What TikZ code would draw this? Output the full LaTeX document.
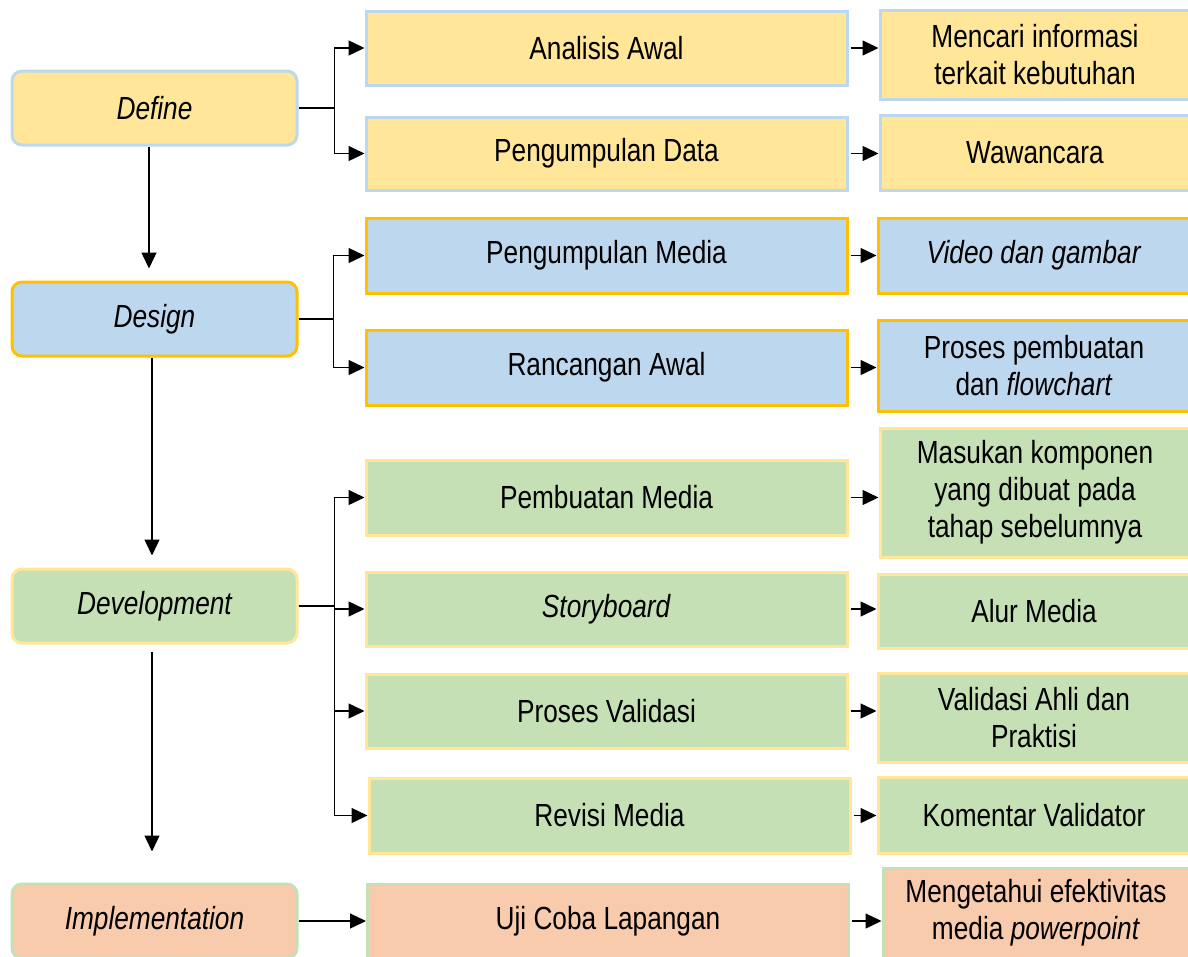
\documentclass[tikz,border=0pt]{standalone}
\usepackage{fontspec}
\setmainfont{Liberation Sans}[FakeStretch=0.82]
\usetikzlibrary{arrows.meta}
\definecolor{kuning}{HTML}{FFE699}
\definecolor{biru}{HTML}{BDD7EE}
\definecolor{hijau}{HTML}{C5E0B4}
\definecolor{jingga}{HTML}{F8CBAD}
\definecolor{emas}{HTML}{FFC000}

\begin{document}
\begin{tikzpicture}[x=1pt, y=-1pt,
  font=\fontsize{32}{37}\selectfont,
  box/.style={draw, line width=3pt, inner sep=2pt, align=center,
    minimum width=481pt, minimum height=74pt},
  tahap/.style={box, rounded corners=10pt, minimum width=285pt,
    font=\fontsize{32}{37}\selectfont\itshape},
  hasil/.style={box, minimum width=310pt},
  kdef/.style={fill=kuning, draw=biru},
  kdes/.style={fill=biru, draw=emas},
  kdev/.style={fill=hijau, draw=kuning},
  kimp/.style={fill=jingga, draw=hijau},
  panah/.style={line width=1.4pt, -{Triangle[length=16pt,width=15pt]}}]
\useasboundingbox (0,0) rectangle (1188,956);
\clip (0,0) rectangle (1188,956);
% tahapan (kolom kiri)
\node[tahap, kdef] (define) at (154.5,108) {Define};
\node[tahap, kdes] (design) at (154.5,319) {Design};
\node[tahap, kdev] (develop) at (154.5,606) {Development};
\node[tahap, kimp] (implement) at (154.5,921) {Implementation};
% kegiatan (kolom tengah)
\node[box, kdef] (analisis) at (606.5,48) {Analisis Awal};
\node[box, kdef, minimum height=73pt] (pengdata) at (606.5,153.5) {Pengumpulan Data};
\node[box, kdes, minimum height=75pt] (pengmedia) at (606.5,255.5) {Pengumpulan Media};
\node[box, kdes, minimum height=75pt] (rancangan) at (606.5,367.5) {Rancangan Awal};
\node[box, kdev, minimum height=75pt] (pembuatan) at (606.5,497.5) {Pembuatan Media};
\node[box, kdev] (storyboard) at (606.5,609) {\textit{Storyboard}};
\node[box, kdev] (validasi) at (606.5,711) {Proses Validasi};
\node[box, kdev, minimum height=75pt] (revisi) at (609.5,815.5) {Revisi Media};
\node[box, kimp] (ujicoba) at (608,921) {Uji Coba Lapangan};
% hasil (kolom kanan)
\node[hasil, kdef, minimum height=89pt] (mencari) at (1035,54.5) {Mencari informasi\\terkait kebutuhan};
\node[hasil, kdef, minimum height=75pt] (wawancara) at (1035,152.5) {Wawancara};
\node[hasil, kdes, minimum width=312pt, minimum height=75pt] (video) at (1034,255.5) {\textit{Video dan gambar}};
\node[hasil, kdes, minimum width=312pt, minimum height=91pt] (proses) at (1034,365.5) {Proses pembuatan\\dan \textit{flowchart}};
\node[hasil, kdev, minimum height=129pt] (masukan) at (1035,492.5) {Masukan komponen\\yang dibuat pada\\tahap sebelumnya};
\node[hasil, kdev, minimum width=312pt] (alur) at (1034,611) {Alur Media};
\node[hasil, kdev, minimum width=312pt, minimum height=89pt] (valahli) at (1034,717.5) {Validasi Ahli dan\\Praktisi};
\node[hasil, kdev, minimum width=312pt, minimum height=76pt] (komentar) at (1034,815) {Komentar Validator};
\node[hasil, kimp, minimum width=306pt, minimum height=90pt] (mengetahui) at (1036,913) {Mengetahui efektivitas\\media \textit{powerpoint}};
% alur antar tahap
\draw[panah, shorten >=12pt] ([xshift=-5.5pt]define.south) -- ([xshift=-5.5pt]design.north);
\draw[panah, shorten >=12pt] ([xshift=-2.5pt]design.south) -- ([xshift=-2.5pt]develop.north);
\draw[panah, shorten <=7pt, shorten >=31pt] ([xshift=-2.5pt]develop.south) -- ([xshift=-2.5pt]implement.north);
% cabang ke kegiatan
\foreach \k in {analisis, pengdata}{%
\draw[panah] (define.east) -- ++(36,0) |- (\k.west);}
\foreach \k in {pengmedia, rancangan}{%
\draw[panah] (design.east) -- ++(35,0) |- (\k.west);}
\foreach \k in {pembuatan, storyboard, validasi, revisi}{%
\draw[panah] (develop.east) -- ++(36,0) |- (\k.west);}
\draw[panah] (implement.east) -- (ujicoba.west);
% kegiatan ke hasil
\foreach \a/\b in {analisis/mencari, pengdata/wawancara, pengmedia/video,
  rancangan/proses, pembuatan/masukan, storyboard/alur, validasi/valahli,
  revisi/komentar, ujicoba/mengetahui}{%
\draw[panah, shorten <=2pt] (\a.east) -- (\a.east -| \b.west);}
\end{tikzpicture}
\end{document}
